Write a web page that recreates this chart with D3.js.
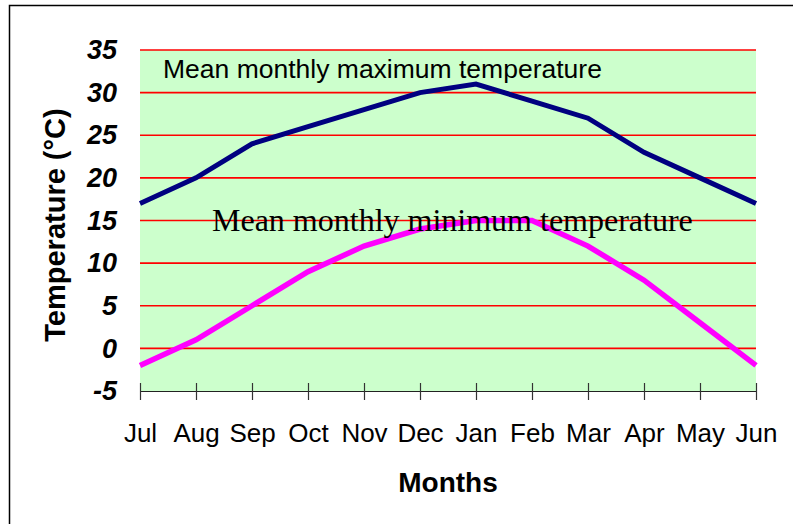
<!DOCTYPE html>
<html>
<head>
<meta charset="utf-8">
<script src="https://d3js.org/d3.v7.min.js"></script>
<style>
  body { margin: 0; background: #fff; }
  svg { display: block; font-family: "Liberation Sans", Arial, sans-serif; }
</style>
</head>
<body>
<div id="chart"></div>
<script>
// data
const months = ["Jul", "Aug", "Sep", "Oct", "Nov", "Dec", "Jan", "Feb", "Mar", "Apr", "May", "Jun"];
const maxTemp = [17, 20, 24, 26, 28, 30, 31, 29, 27, 23, 20, 17];
const minTemp = [-2, 1, 5, 9, 12, 14, 15, 15, 12, 8, 3, -2];
const yTicks = [-5, 0, 5, 10, 15, 20, 25, 30, 35];

const width = 793, height = 524;
const plot = { left: 140, right: 756, top: 50, bottom: 391 };

const svg = d3.select("#chart").append("svg")
    .attr("width", width)
    .attr("height", height);

// outer frame (only top and left edges are visible)
svg.append("path")
    .attr("d", `M9.5,${height} V5.5 H${width}`)
    .attr("fill", "none")
    .attr("stroke", "#000")
    .attr("stroke-width", 1.5);

const x = d3.scalePoint().domain(months).range([plot.left, plot.right]);
const y = d3.scaleLinear().domain([-5, 35]).range([plot.bottom, plot.top]);

// plot background
svg.append("rect")
    .attr("x", plot.left)
    .attr("y", plot.top)
    .attr("width", plot.right - plot.left)
    .attr("height", plot.bottom - plot.top)
    .attr("fill", "#ccffcc");

// red gridlines
svg.append("g")
    .selectAll("line")
    .data(yTicks.filter(d => d > -5))
    .join("line")
    .attr("x1", plot.left)
    .attr("x2", plot.right)
    .attr("y1", d => y(d))
    .attr("y2", d => y(d))
    .attr("stroke", "#ff0000")
    .attr("stroke-width", 1.6);

// x axis with crossing ticks
const xAxis = svg.append("g")
    .attr("transform", `translate(0,${plot.bottom})`)
    .call(d3.axisBottom(x).tickSize(9).tickSizeOuter(0).tickPadding(42));
xAxis.select(".domain").attr("stroke", "#222").attr("stroke-width", 1.2);
xAxis.selectAll(".tick line").attr("y1", -8).attr("stroke", "#333").attr("stroke-width", 1.2);
xAxis.selectAll(".tick text")
    .attr("fill", "#000")
    .style("font-size", "26px")
    .attr("dy", "0");

// y axis labels only (plain hyphen for negatives)
const yAxis = svg.append("g")
    .attr("transform", `translate(${plot.left},0)`)
    .call(d3.axisLeft(y).tickValues(yTicks).tickFormat(d => String(d)).tickSize(0).tickPadding(23));
yAxis.select(".domain").remove();
yAxis.selectAll(".tick text")
    .attr("fill", "#000")
    .style("font-size", "27px")
    .style("font-weight", "bold")
    .style("font-style", "italic");

// lines
const line = d3.line()
    .x((d, i) => x(months[i]))
    .y(d => y(d));

svg.append("path")
    .datum(maxTemp)
    .attr("d", line)
    .attr("fill", "none")
    .attr("stroke", "#000080")
    .attr("stroke-width", 5);

svg.append("path")
    .datum(minTemp)
    .attr("d", line)
    .attr("fill", "none")
    .attr("stroke", "#ff00ff")
    .attr("stroke-width", 5.5);

// series labels
svg.append("text")
    .attr("x", 163)
    .attr("y", 78)
    .style("font-size", "26.5px")
    .text("Mean monthly maximum temperature");

svg.append("text")
    .attr("x", 212)
    .attr("y", 231)
    .style("font-family", "'Liberation Serif', 'Times New Roman', serif")
    .style("font-size", "32px")
    .text("Mean monthly minimum temperature");

// axis titles
svg.append("text")
    .attr("x", (plot.left + plot.right) / 2)
    .attr("y", 492)
    .attr("text-anchor", "middle")
    .style("font-size", "28px")
    .style("font-weight", "bold")
    .text("Months");

svg.append("text")
    .attr("transform", `translate(65,225) rotate(-90)`)
    .attr("text-anchor", "middle")
    .style("font-size", "29px")
    .style("font-weight", "bold")
    .text("Temperature (°C)");
</script>
</body>
</html>
